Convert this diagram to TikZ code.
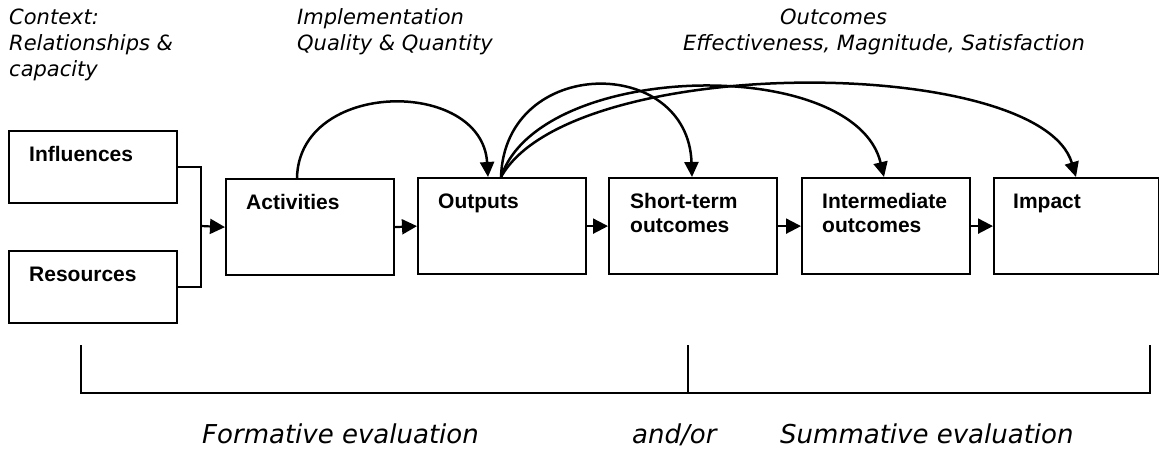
\documentclass[tikz,border=0pt]{standalone}
\usepackage{fontspec}
\setmainfont{Liberation Sans}
\newfontfamily\notefont{DejaVu Sans}
\usetikzlibrary{arrows.meta}
\begin{document}
\begin{tikzpicture}[x=1pt,y=-1pt,
  box/.style={draw, line width=2.2pt, rectangle, inner sep=0pt,
    minimum width=168pt, anchor=north west},
  boxlabel/.style={font=\bfseries\fontsize{21}{24}\selectfont,
    anchor=base west, inner sep=0pt, align=left},
  note/.style={font=\notefont\itshape\fontsize{21}{26}\selectfont,
    anchor=base west, inner sep=0pt},
  verdict/.style={font=\notefont\itshape\fontsize{26}{30}\selectfont,
    anchor=base west, inner sep=0pt},
  wire/.style={line width=2.2pt},
  link/.style={line width=2.5pt, -{Triangle[length=15pt,width=14pt]}},
  flow/.style={line width=2.2pt, -{Triangle[length=15pt,width=15pt]}},
]
\useasboundingbox (0,0) rectangle (1159,451);

% headings
\node[note] (ctx1) at (9,24) {Context:};
\node[note] (ctx2) at (9,50) {Relationships \&};
\node[note] (ctx3) at (9,76) {capacity};
\node[note] (imp1) at (297,24) {Implementation};
\node[note] (imp2) at (297,50) {Quality \& Quantity};
\node[note] (out1) at (780,24) {Outcomes};
\node[note] (out2) at (683,50) {Effectiveness, Magnitude, Satisfaction};

% boxes
\node[box, minimum height=72pt] (inf) at (8,130) {};
\node[box, minimum height=72pt] (res) at (8,250) {};
\node[box, minimum height=96pt] (act) at (225,178) {};
\node[box, minimum height=96pt] (outp) at (417,177) {};
\node[box, minimum height=96pt] (short) at (608,177) {};
\node[box, minimum height=96pt] (inter) at (801,177) {};
\node[box, minimum height=96pt, minimum width=165pt] (impact) at (993,177) {};

% box captions (two-line captions sit on their last baseline)
\node[boxlabel] (infT) at ([shift={(21,31)}]inf.north west) {Influences};
\node[boxlabel] (resT) at ([shift={(21,31)}]res.north west) {Resources};
\node[boxlabel] (actT) at ([shift={(21,31)}]act.north west) {Activities};
\node[boxlabel] (outT) at ([shift={(21,31)}]outp.north west) {Outputs};
\node[boxlabel] (shortT) at ([shift={(22,55)}]short.north west) {Short-term\\outcomes};
\node[boxlabel] (interT) at ([shift={(21,55)}]inter.north west) {Intermediate\\outcomes};
\node[boxlabel] (impT) at ([shift={(20,31)}]impact.north west) {Impact};

% inputs merge into activities
\coordinate (join) at (201,226);
\draw[wire] (inf.east) -| (join);
\draw[wire] (res.east) -| (join);
\draw[flow] (join) -- (act.west);

% main chain
\draw[flow] (act.east) -- (outp.west);
\draw[flow] (outp.east) -- (short.west);
\draw[flow] (short.east) -- (inter.west);
\draw[flow] (inter.east) -- (impact.west);

% feedback arcs
\draw[link] ([shift={(72,0)}]act.north west)
  .. controls +(2,-99) and +(-6,-99) .. ([shift={(71,0)}]outp.north west);
\draw[link] ([shift={(84,0)}]outp.north west)
  .. controls +(4,-122) and +(-4,-122) .. ([shift={(84,0)}]short.north west);
\draw[link] ([shift={(84,0)}]outp.north west)
  .. controls +(39,-117) and +(-29,-122) .. ([shift={(83,0)}]inter.north west);
\draw[link] ([shift={(84,0)}]outp.north west)
  .. controls +(70,-125) and +(-36,-122) .. ([shift={(83,0)}]impact.north west);

% evaluation bracket
\coordinate (bl) at (81,345);
\coordinate (bm) at (688,345);
\coordinate (br) at (1150,345);
\draw[wire, line width=2pt] (bl) -- ++(0,48) -| (br);
\draw[line width=1.6pt] (bm) -- ++(0,48);

% evaluation captions
\node[verdict] (form) at (202,443) {Formative evaluation};
\node[verdict] (andor) at (632,443) {and/or};
\node[verdict] (summ) at (780,443) {Summative evaluation};
\end{tikzpicture}
\end{document}
